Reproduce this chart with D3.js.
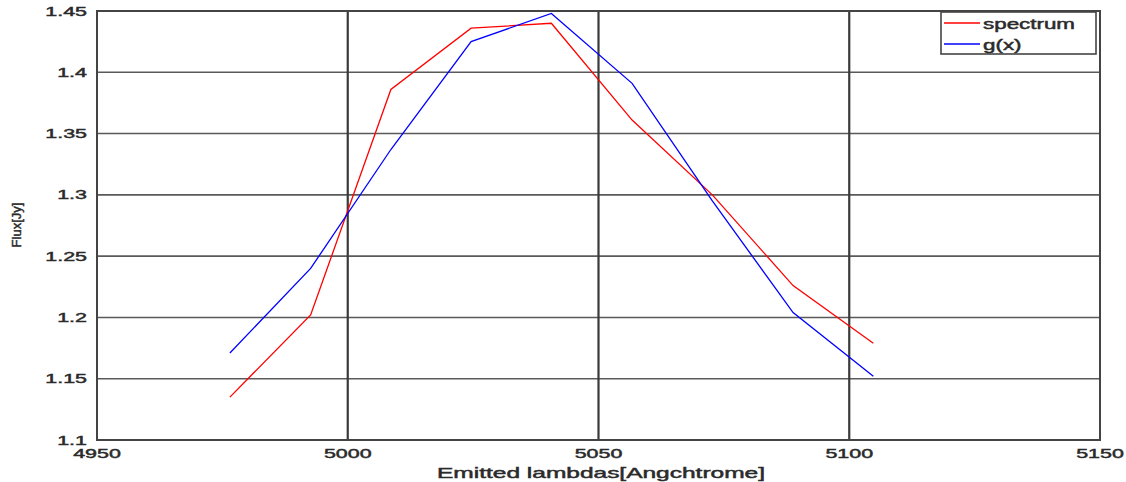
<!DOCTYPE html>
<html>
<head>
<meta charset="utf-8">
<script src="https://cdn.jsdelivr.net/npm/d3@7"></script>
<style>
  html, body { margin: 0; padding: 0; background: #fff; }
  svg { display: block; font-family: "Liberation Sans", Arial, sans-serif; }
  text { stroke: #2a2a2a; stroke-width: 0.45px; paint-order: stroke; }
</style>
</head>
<body>
<svg id="chart" width="1126" height="482"></svg>
<script>
// Emitted wavelengths (Angstrom) and fluxes (Jy)
const lambdas = [4976.5, 4992.6, 5008.6, 5024.6, 5040.6, 5056.7, 5072.7, 5088.8, 5104.8];
const spectrum = [1.135, 1.202, 1.386, 1.436, 1.440, 1.361, 1.300, 1.226, 1.179];
const gx = [1.171, 1.240, 1.337, 1.425, 1.448, 1.391, 1.295, 1.204, 1.152];

const xTicks = [4950, 5000, 5050, 5100, 5150];
const yTicks = [1.1, 1.15, 1.2, 1.25, 1.3, 1.35, 1.4, 1.45];
const yTickLabels = ["1.1", "1.15", "1.2", "1.25", "1.3", "1.35", "1.4", "1.45"];
const seriesNames = ["spectrum", "g(x)"];
const seriesColors = ["#ff0000", "#0000ff"];

const svg = d3.select("#chart");
const plotL = 97, plotR = 1100, plotT = 11, plotB = 440;
const x = d3.scaleLinear().domain([4950, 5150]).range([plotL, plotR]);
const y = d3.scaleLinear().domain([1.1, 1.45]).range([plotB, plotT]);

const STRETCH = 1.65;
function wideText(g, px, py, str, size, anchor, stretch = STRETCH) {
  return g.append("text")
    .attr("transform", `translate(${px},${py}) scale(${stretch},1)`)
    .attr("text-anchor", anchor)
    .attr("font-size", size)
    .attr("fill", "#2a2a2a")
    .text(str);
}

// grid
const grid = svg.append("g");
grid.selectAll("line.h").data(yTicks).join("line")
  .attr("x1", plotL).attr("x2", plotR)
  .attr("y1", d => y(d)).attr("y2", d => y(d))
  .attr("stroke", "#5a5a5a").attr("stroke-width", 1.6);
grid.selectAll("line.v").data(xTicks.slice(1, -1)).join("line")
  .attr("x1", d => x(d)).attr("x2", d => x(d))
  .attr("y1", plotT).attr("y2", plotB)
  .attr("stroke", "#3a3a3a").attr("stroke-width", 2.2);

// frame
svg.append("rect")
  .attr("x", plotL).attr("y", plotT)
  .attr("width", plotR - plotL).attr("height", plotB - plotT)
  .attr("fill", "none").attr("stroke", "#444").attr("stroke-width", 2);

// tick labels
const labels = svg.append("g");
xTicks.forEach(t => wideText(labels, x(t), 458, String(t), 13, "middle"));
yTicks.forEach((t, i) => wideText(labels, 87, y(t) + 4.6, yTickLabels[i], 13, "end"));

// axis titles
wideText(svg, 601, 478, "Emitted lambdas[Angchtrome]", 14, "middle", 1.75);
svg.append("text")
  .attr("transform", "translate(21,225) rotate(-90)")
  .attr("text-anchor", "middle")
  .attr("font-size", 13)
  .attr("fill", "#2a2a2a")
  .text("Flux[Jy]");

// series
const line = d3.line().x(d => x(d[0])).y(d => y(d[1]));
[spectrum, gx].forEach((vals, i) => {
  svg.append("path")
    .datum(lambdas.map((l, k) => [l, vals[k]]))
    .attr("d", line)
    .attr("fill", "none")
    .attr("stroke", seriesColors[i])
    .attr("stroke-width", 1.3);
});

// legend
const lg = svg.append("g");
lg.append("rect")
  .attr("x", 941).attr("y", 12).attr("width", 155).attr("height", 42)
  .attr("fill", "#fff").attr("stroke", "#444").attr("stroke-width", 1.6);
seriesNames.forEach((name, i) => {
  const ly = 23 + i * 21;
  lg.append("line")
    .attr("x1", 944).attr("x2", 980).attr("y1", ly).attr("y2", ly)
    .attr("stroke", seriesColors[i]).attr("stroke-width", 1.3);
  wideText(lg, 983, ly + 6, name, 14, "start", 1.6);
});
</script>
</body>
</html>
